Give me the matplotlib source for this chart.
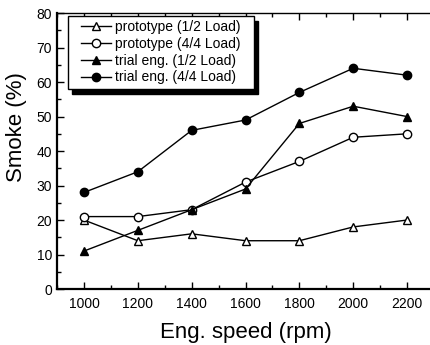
import matplotlib
matplotlib.use("Agg")
import matplotlib.pyplot as plt
from matplotlib.ticker import MultipleLocator
from matplotlib.offsetbox import DrawingArea

plt.rcParams['font.family'] = ['Liberation Sans', 'DejaVu Sans']

speed = [1000, 1200, 1400, 1600, 1800, 2000, 2200]
proto_half = [20, 14, 16, 14, 14, 18, 20]
proto_full = [21, 21, 23, 31, 37, 44, 45]
trial_half = [11, 17, 23, 29, 48, 53, 50]
trial_full = [28, 34, 46, 49, 57, 64, 62]
labels = ['prototype (1/2 Load)', 'prototype (4/4 Load)',
          'trial eng. (1/2 Load)', 'trial eng. (4/4 Load)']

fig = plt.figure(figsize=(4.31, 3.45), dpi=100)
ax = fig.add_axes([0.1323, 0.1623, 1.007 - 0.1323, 0.962 - 0.1623])

kw = dict(color='black', lw=1.0, ms=6)
ax.plot(speed, proto_half, marker='^', mfc='white', mec='black', label=labels[0], **kw)
ax.plot(speed, proto_full, marker='o', mfc='white', mec='black', label=labels[1], **kw)
ax.plot(speed, trial_half, marker='^', mfc='black', mec='black', label=labels[2], **kw)
ax.plot(speed, trial_full, marker='o', mfc='black', mec='black', label=labels[3], **kw)

ax.set_xlim(900, 2300)
ax.set_ylim(0, 80)
ax.xaxis.set_major_locator(MultipleLocator(200))
ax.xaxis.set_minor_locator(MultipleLocator(100))
ax.yaxis.set_major_locator(MultipleLocator(10))
ax.yaxis.set_minor_locator(MultipleLocator(5))
ax.tick_params(which='both', direction='in', top=True, right=False, labelsize=10)
ax.tick_params(axis='x', which='major', pad=6)
ax.tick_params(which='major', length=5, width=1)
ax.tick_params(which='minor', length=3, width=1)
ax.spines['right'].set_visible(False)
for s in ['left', 'bottom']:
    ax.spines[s].set_linewidth(1.6)
ax.spines['top'].set_linewidth(1.0)

ax.set_xlabel('Eng. speed (rpm)', fontsize=16, labelpad=8)
ax.set_ylabel('Smoke (%)', fontsize=16)
ax.yaxis.set_label_coords(-0.08, 0.587)

leg = ax.legend(loc='upper left', bbox_to_anchor=(0.03, 0.99), fontsize=10,
                frameon=True, fancybox=False, edgecolor='black', framealpha=1,
                shadow={'color': 'black', 'ox': 3, 'oy': -4, 'alpha': 1},
                handlelength=2.2, handletextpad=0.25, labelspacing=0.2,
                borderpad=0.3, borderaxespad=0)
leg.get_frame().set_linewidth(1.0)
for h in leg.legend_handles:
    h.set_markersize(6)
hb = leg._legend_handle_box
hb.sep = 0
hb._children.insert(0, DrawingArea(6, 1))
hb._children.append(DrawingArea(7, 1))

fig.savefig('out.png', dpi=100)
